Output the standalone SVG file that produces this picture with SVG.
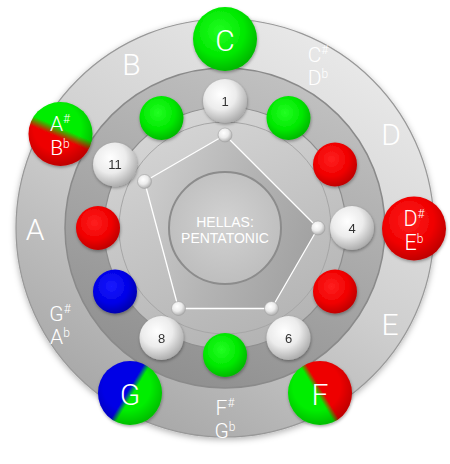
<svg xmlns="http://www.w3.org/2000/svg" width="450" height="464" viewBox="0 0 450 464">
<style>
.lbl{font-family:Roboto,"Liberation Sans",sans-serif;font-weight:300;fill:#fff;text-anchor:middle}
.big{font-size:30px}
.two{font-size:21px}
.sup{font-size:12px}
.num{font-family:"Liberation Sans",Arial,sans-serif;font-size:13px;fill:#333;text-anchor:middle}
.ctr{font-family:"Liberation Sans",Arial,sans-serif;font-size:14px;fill:#fff;text-anchor:middle}
</style>
<defs>
<linearGradient id="outerG" x1="0.8" y1="0" x2="0.2" y2="1"><stop offset="0" stop-color="#ececec"/><stop offset="0.5" stop-color="#cfcfcf"/><stop offset="1" stop-color="#a2a2a2"/></linearGradient>
<linearGradient id="bandG" x1="0.7" y1="0" x2="0.3" y2="1"><stop offset="0" stop-color="#c2c2c2"/><stop offset="1" stop-color="#8e8e8e"/></linearGradient>
<linearGradient id="innerG" x1="0.3" y1="0" x2="0.7" y2="1"><stop offset="0" stop-color="#d6d6d6"/><stop offset="1" stop-color="#b2b2b2"/></linearGradient>
<linearGradient id="pentG" x1="0" y1="0.3" x2="1" y2="0.7"><stop offset="0" stop-color="#cccccc"/><stop offset="0.5" stop-color="#b4b4b4"/><stop offset="1" stop-color="#a0a0a0"/></linearGradient>
<radialGradient id="ctrG" cx="0.5" cy="0.45" r="0.6"><stop offset="0" stop-color="#d2d2d2"/><stop offset="1" stop-color="#bcbcbc"/></radialGradient>
<radialGradient id="gGreen" cx="0.42" cy="0.38" r="0.65"><stop offset="0" stop-color="#22ff22"/><stop offset="0.6" stop-color="#00e800"/><stop offset="1" stop-color="#00b400"/></radialGradient>
<radialGradient id="gRed" cx="0.42" cy="0.38" r="0.65"><stop offset="0" stop-color="#ff2020"/><stop offset="0.6" stop-color="#f00000"/><stop offset="1" stop-color="#bb0000"/></radialGradient>
<radialGradient id="gBlue" cx="0.42" cy="0.38" r="0.65"><stop offset="0" stop-color="#1a1aff"/><stop offset="0.6" stop-color="#0000e6"/><stop offset="1" stop-color="#0000a8"/></radialGradient>
<radialGradient id="gWhite" cx="0.4" cy="0.35" r="0.7"><stop offset="0" stop-color="#ffffff"/><stop offset="0.5" stop-color="#ececec"/><stop offset="1" stop-color="#a6a6a6"/></radialGradient>
<linearGradient id="gAB" x1="0.65" y1="0.15" x2="0.35" y2="0.85"><stop offset="0.38" stop-color="#00ee00"/><stop offset="0.58" stop-color="#ee0000"/></linearGradient>
<linearGradient id="gG" x1="0.25" y1="0.35" x2="0.75" y2="0.65"><stop offset="0.42" stop-color="#0000e6"/><stop offset="0.58" stop-color="#00ee00"/></linearGradient>
<linearGradient id="gF" x1="0.25" y1="0.65" x2="0.75" y2="0.35"><stop offset="0.42" stop-color="#00ee00"/><stop offset="0.58" stop-color="#ee0000"/></linearGradient>
<radialGradient id="shade" cx="0.45" cy="0.4" r="0.62"><stop offset="0.6" stop-color="#000" stop-opacity="0"/><stop offset="1" stop-color="#000" stop-opacity="0.22"/></radialGradient>
<filter id="sh" x="-30%" y="-30%" width="160%" height="160%"><feDropShadow dx="0.5" dy="1.5" stdDeviation="1.5" flood-color="#000" flood-opacity="0.35"/></filter>
<filter id="sh2" x="-10%" y="-10%" width="120%" height="120%"><feDropShadow dx="0" dy="2" stdDeviation="3" flood-color="#000" flood-opacity="0.3"/></filter>
</defs>

<g id="board">
<circle cx="225" cy="228" r="209" fill="url(#outerG)" stroke="#989898" stroke-width="1.2" filter="url(#sh2)"/>
<circle cx="225" cy="228" r="160" fill="url(#bandG)" stroke="#8a8a8a" stroke-width="1.5"/>
<circle cx="225" cy="228" r="121" fill="url(#innerG)" stroke="#8e8e8e" stroke-width="1.2"/>
<circle cx="225" cy="228" r="106" fill="none" stroke="#a6a6a6" stroke-width="1"/>
</g>

<g id="connectors">
<polygon points="225,135 318,228 271.5,308.5 178.5,308.5 144.5,181.5" fill="url(#pentG)" stroke="#ffffff" stroke-width="1.3" stroke-linejoin="round"/>
</g>

<g id="center">
<circle cx="225" cy="228" r="56" fill="url(#ctrG)" stroke="#8c8c8c" stroke-width="2"/>
<text class="ctr" x="225" y="227">HELLAS:</text>
<text class="ctr" x="225" y="243">PENTATONIC</text>
</g>

<g id="vertices">
<circle cx="225" cy="135" r="7" fill="url(#gWhite)" stroke="#a0a0a0" stroke-width="0.6"/>
<circle cx="318" cy="228" r="7" fill="url(#gWhite)" stroke="#a0a0a0" stroke-width="0.6"/>
<circle cx="271.5" cy="308.5" r="7" fill="url(#gWhite)" stroke="#a0a0a0" stroke-width="0.6"/>
<circle cx="178.5" cy="308.5" r="7" fill="url(#gWhite)" stroke="#a0a0a0" stroke-width="0.6"/>
<circle cx="144.5" cy="181.5" r="7" fill="url(#gWhite)" stroke="#a0a0a0" stroke-width="0.6"/>
</g>

<g id="inner-balls" filter="url(#sh)">
<g id="n1"><circle cx="225" cy="101" r="22" fill="url(#gWhite)"/><text class="num" x="225" y="105.5">1</text></g>
<g id="n2"><circle cx="288.5" cy="118" r="22" fill="url(#gGreen)"/></g>
<g id="n3"><circle cx="335" cy="164.5" r="22" fill="url(#gRed)"/></g>
<g id="n4"><circle cx="352" cy="228" r="22" fill="url(#gWhite)"/><text class="num" x="352" y="232.5">4</text></g>
<g id="n5"><circle cx="335" cy="291.5" r="22" fill="url(#gRed)"/></g>
<g id="n6"><circle cx="288.5" cy="338" r="22" fill="url(#gWhite)"/><text class="num" x="288.5" y="342.5">6</text></g>
<g id="n7"><circle cx="225" cy="355" r="22" fill="url(#gGreen)"/></g>
<g id="n8"><circle cx="161.5" cy="338" r="22" fill="url(#gWhite)"/><text class="num" x="161.5" y="342.5">8</text></g>
<g id="n9"><circle cx="115" cy="291.5" r="22" fill="url(#gBlue)"/></g>
<g id="n10"><circle cx="98" cy="228" r="22" fill="url(#gRed)"/></g>
<g id="n11"><circle cx="115" cy="164.5" r="22" fill="url(#gWhite)"/><text class="num" x="115" y="169">11</text></g>
<g id="n12"><circle cx="161.5" cy="118" r="22" fill="url(#gGreen)"/></g>
</g>

<g id="ring-labels">
<text class="lbl two" x="318" y="62">C<tspan class="sup" dy="-8">#</tspan></text>
<text class="lbl two" x="318" y="85">D<tspan class="sup" dy="-7">b</tspan></text>
<text class="lbl big" x="391" y="145">D</text>
<text class="lbl big" x="390" y="335">E</text>
<text class="lbl two" x="225" y="415">F<tspan class="sup" dy="-8">#</tspan></text>
<text class="lbl two" x="225" y="438">G<tspan class="sup" dy="-7">b</tspan></text>
<text class="lbl two" x="60" y="321">G<tspan class="sup" dy="-8">#</tspan></text>
<text class="lbl two" x="60" y="344">A<tspan class="sup" dy="-7">b</tspan></text>
<text class="lbl big" x="35" y="240">A</text>
<text class="lbl big" x="131.5" y="75">B</text>
</g>

<g id="outer-balls">
<g id="kC"><circle cx="225" cy="39" r="32" fill="url(#gGreen)" filter="url(#sh)"/><text class="lbl big" x="225" y="51">C</text></g>
<g id="kDs"><circle cx="414" cy="228.5" r="32" fill="url(#gRed)" filter="url(#sh)"/><text class="lbl" style="font-size:21.5px" x="414" y="226">D<tspan class="sup" dy="-8">#</tspan></text><text class="lbl" style="font-size:21.5px" x="414" y="250">E<tspan class="sup" dy="-7">b</tspan></text></g>
<g id="kF"><circle cx="320" cy="393" r="32" fill="url(#gF)" filter="url(#sh)"/><circle cx="320" cy="393" r="32" fill="url(#shade)"/><text class="lbl big" x="320" y="405">F</text></g>
<g id="kG"><circle cx="130" cy="393" r="32" fill="url(#gG)" filter="url(#sh)"/><circle cx="130" cy="393" r="32" fill="url(#shade)"/><text class="lbl big" x="130" y="405">G</text></g>
<g id="kAs"><circle cx="60.5" cy="134" r="32" fill="url(#gAB)" filter="url(#sh)"/><circle cx="60.5" cy="134" r="32" fill="url(#shade)"/><text class="lbl two" x="60" y="131">A<tspan class="sup" dy="-8">#</tspan></text><text class="lbl two" x="60" y="155">B<tspan class="sup" dy="-7">b</tspan></text></g>
</g>
</svg>
